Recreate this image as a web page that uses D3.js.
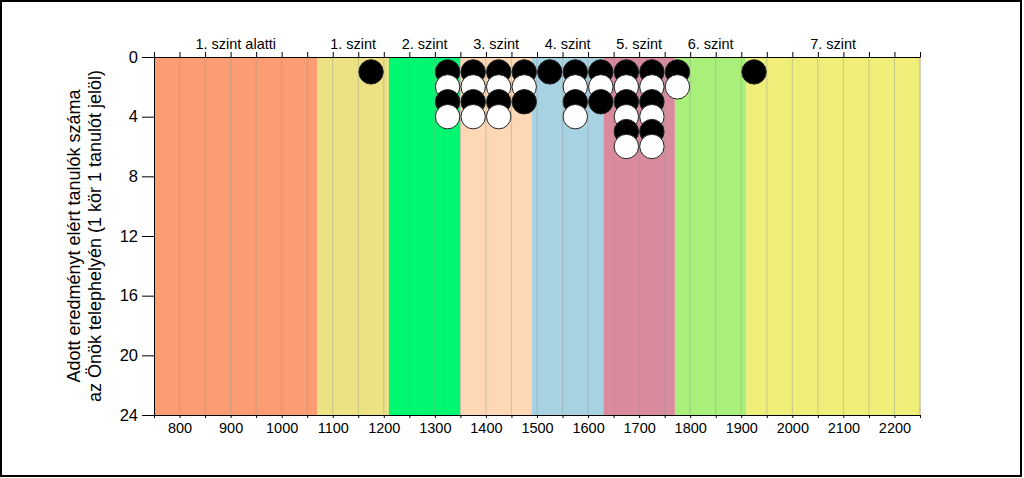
<!DOCTYPE html>
<html><head><meta charset="utf-8">
<script src="https://cdn.jsdelivr.net/npm/d3@7"></script>
<style>body{margin:0;background:#fff}svg{display:block;font-family:"Liberation Sans",Arial,sans-serif}</style>
</head><body><svg id="c" width="1024" height="478"></svg>
<script>
// Level bands
const bandNames = ["1. szint alatti","1. szint","2. szint","3. szint","4. szint","5. szint","6. szint","7. szint"];
const bandStarts = [750,1070,1210,1350,1490,1630,1770,1910];
const bandEnds   = [1070,1210,1350,1490,1630,1770,1910,2250];
const bandColors = ["#FC9C72","#ECE283","#00F870","#FED7B4","#A6D2E2","#D98A9C","#A9F07B","#EEEE78"];
// Student counts per 50-point bin (bin centre)
const binCenters = [1175,1325,1375,1425,1475,1525,1575,1625,1675,1725,1775,1925];
const binCounts  = [1,4,4,4,3,1,4,3,6,6,2,1];
const xTickLabels = [800,900,1000,1100,1200,1300,1400,1500,1600,1700,1800,1900,2000,2100,2200];
const yTickLabels = [0,4,8,12,16,20,24];

const svg = d3.select("#c");
const L=154, R=920, T=57, B=415;
const x = d3.scaleLinear().domain([750,2250]).range([L,R]);
const y = d3.scaleLinear().domain([0,24]).range([T,B]);

svg.append("rect").attr("x",1).attr("y",1).attr("width",1020).attr("height",475)
  .attr("fill","#fff").attr("stroke","#000").attr("stroke-width",2);

// bands
svg.selectAll("rect.band").data(bandNames).enter().append("rect")
  .attr("x",(d,i)=>x(bandStarts[i])).attr("y",T)
  .attr("width",(d,i)=>x(bandEnds[i])-x(bandStarts[i])).attr("height",B-T)
  .attr("fill",(d,i)=>bandColors[i]);

// grid lines
const gridVals = d3.range(800,2250,50);
svg.selectAll("line.grid").data(gridVals).enter().append("line")
  .attr("x1",d=>x(d)).attr("x2",d=>x(d)).attr("y1",T).attr("y2",B)
  .attr("stroke","#999").attr("stroke-opacity",0.45).attr("stroke-width",1);
svg.append("line").attr("x1",R).attr("x2",R).attr("y1",T).attr("y2",B).attr("stroke","#c8c0a0").attr("stroke-width",1.5);

// band labels
svg.selectAll("text.band").data(bandNames).enter().append("text")
  .attr("x",(d,i)=>x((bandStarts[i]+bandEnds[i])/2)).attr("y",49)
  .attr("text-anchor","middle").attr("font-size",14.5).attr("fill","#000").text(d=>d);

// top axis
const topAxis = d3.axisTop(x).tickValues(d3.range(750,2251,50)).tickFormat("").tickSize(5).tickSizeOuter(0);
svg.append("g").attr("transform",`translate(0,${T})`).call(topAxis)
  .call(g=>g.select(".domain").attr("stroke","#000").attr("stroke-width",1.2));

// bottom axis
const botAxis = d3.axisBottom(x).tickValues(d3.range(750,2251,50)).tickSize(3).tickSizeOuter(0)
  .tickFormat(d=>xTickLabels.includes(d)?d:"");
const gb = svg.append("g").attr("transform",`translate(0,${B})`).call(botAxis);
gb.select(".domain").attr("stroke","#000");
gb.selectAll("text").attr("font-size",14.5).attr("font-family","Liberation Sans, Arial, sans-serif").attr("fill","#000").attr("y",5).attr("dy","0.9em");

// left axis
const leftAxis = d3.axisLeft(y).tickValues(yTickLabels).tickSize(12).tickSizeOuter(0);
const gl = svg.append("g").attr("transform",`translate(${L},0)`).call(leftAxis);
gl.select(".domain").attr("stroke","#000");
gl.selectAll("text").attr("font-size",16.5).attr("font-family","Liberation Sans, Arial, sans-serif").attr("fill","#000").attr("x",-16);

// y title
const yt = svg.append("text").attr("transform",`translate(80,${(T+B)/2}) rotate(-90)`)
  .attr("text-anchor","middle").attr("font-size",18).attr("fill","#000");
yt.append("tspan").attr("x",0).attr("dy",0).text("Adott eredményt elért tanulók száma");
yt.append("tspan").attr("x",0).attr("dy",21).text("az Önök telephelyén (1 kör 1 tanulót jelöl)");

// circles
const pts = [];
binCenters.forEach((c,i)=>{ for(let k=1;k<=binCounts[i];k++) pts.push({c,k}); });
svg.selectAll("circle.p").data(pts).enter().append("circle")
  .attr("cx",d=>x(d.c)).attr("cy",d=>y(d.k)).attr("r",12.2)
  .attr("fill",d=>d.k%2===1?"#000":"#fff").attr("stroke","#222").attr("stroke-width",1);
</script></body></html>
